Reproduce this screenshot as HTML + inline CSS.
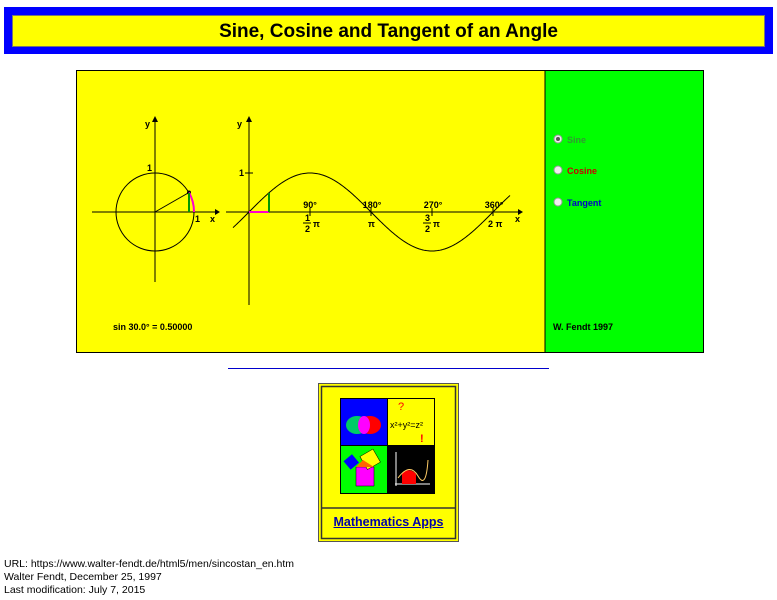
<!DOCTYPE html>
<html><head><meta charset="utf-8"><style>
body{margin:0;width:777px;height:600px;background:#fff;font-family:"Liberation Sans",Arial,sans-serif;overflow:hidden;position:relative}
.a{position:absolute}
</style></head><body>
<div class="a" style="left:4px;top:7px;width:769px;height:47px;background:#0000ff"></div>
<div class="a" style="left:12px;top:15px;width:753px;height:32px;background:#ffff00;border:1px solid #777;box-sizing:border-box;text-align:center;font-weight:bold;font-size:19px;line-height:31px">Sine, Cosine and Tangent of an Angle</div>

<svg class="a" style="left:0;top:0" width="777" height="600" font-family="Liberation Sans, Arial, sans-serif" font-weight="bold">
<rect x="76.5" y="70.5" width="627" height="282" fill="#ffff00" stroke="#000"/>
<rect x="545" y="71" width="158" height="281" fill="#00ff00"/>
<line x1="545" y1="70" x2="545" y2="352" stroke="#000"/>
<g stroke="#000" fill="none" stroke-width="1">
<line x1="92" y1="212" x2="215" y2="212"/>
<line x1="155" y1="122" x2="155" y2="282"/>
<circle cx="155" cy="212" r="39"/>
<line x1="155" y1="212" x2="189" y2="192.5"/>
<line x1="226" y1="212" x2="518" y2="212"/>
<line x1="249" y1="122" x2="249" y2="305"/>
<line x1="245" y1="173" x2="253" y2="173"/>
<line x1="310" y1="208" x2="310" y2="216"/>
<line x1="371" y1="208" x2="371" y2="216"/>
<line x1="432" y1="208" x2="432" y2="216"/>
<line x1="493" y1="208" x2="493" y2="216"/>
<path id="sp" d=""/>
</g>
<g fill="#000">
<path d="M215 209 L220 212 L215 215Z"/><path d="M152 122 L155 116 L158 122Z"/>
<path d="M518 209 L523 212 L518 215Z"/><path d="M246 122 L249 116 L252 122Z"/>
<circle cx="189" cy="192.5" r="2"/>
</g>
<path d="M194 212 A39 39 0 0 0 189 192.5" stroke="#ff00cc" stroke-width="2" fill="none"/>
<line x1="189" y1="193" x2="189" y2="212" stroke="#009900" stroke-width="2"/>
<line x1="249" y1="212" x2="269" y2="212" stroke="#ff00cc" stroke-width="2"/>
<line x1="269" y1="193" x2="269" y2="212" stroke="#009900" stroke-width="2"/>
<g font-size="9">
<text x="145" y="127">y</text><text x="237" y="127">y</text>
<text x="147" y="171">1</text><text x="239" y="176">1</text>
<text x="195" y="222">1</text><text x="210" y="222">x</text><text x="515" y="222">x</text>
<text x="310" y="208" text-anchor="middle">90°</text>
<text x="372" y="208" text-anchor="middle">180°</text>
<text x="433" y="208" text-anchor="middle">270°</text>
<text x="494" y="208" text-anchor="middle">360°</text>
<text x="305" y="221">1</text><line x1="303" y1="223" x2="311" y2="223" stroke="#000"/><text x="305" y="232">2</text><text x="313" y="227">π</text>
<text x="368" y="227">π</text>
<text x="425" y="221">3</text><line x1="423" y1="223" x2="431" y2="223" stroke="#000"/><text x="425" y="232">2</text><text x="433" y="227">π</text>
<text x="488" y="227">2 π</text>
<text x="113" y="330">sin 30.0° = 0.50000</text>
<text x="553" y="330">W. Fendt 1997</text>
<text x="567" y="143" fill="#339933">Sine</text>
<text x="567" y="174" fill="#cc0000">Cosine</text>
<text x="567" y="206" fill="#0000cc">Tangent</text>
</g>
<g stroke="#999" fill="#eee"><circle cx="558" cy="139" r="4"/><circle cx="558" cy="170" r="4"/><circle cx="558" cy="202" r="4"/></g>
<circle cx="558" cy="139" r="2" fill="#555"/>
<line x1="228" y1="368.5" x2="549" y2="368.5" stroke="#0000cc"/>
<rect x="318.5" y="383.5" width="140" height="158" fill="#ffff00" stroke="#555" stroke-width="1"/>
<rect x="321.5" y="386.5" width="134" height="152" fill="none" stroke="#333" stroke-width="1.5"/>
<line x1="322" y1="508" x2="455" y2="508" stroke="#333" stroke-width="1.5"/>
<rect x="340" y="398" width="95" height="96" fill="#000"/>
<rect x="341" y="399" width="46" height="46" fill="#0000ff"/>
<rect x="388" y="399" width="46" height="46" fill="#ffff00"/>
<rect x="341" y="446" width="46" height="47" fill="#00ff00"/>
<rect x="388" y="446" width="46" height="47" fill="#000"/>
<ellipse cx="357" cy="425" rx="11" ry="9" fill="#00cc66"/>
<ellipse cx="370" cy="425" rx="11" ry="9" fill="#ff0000"/>
<ellipse cx="364" cy="425" rx="6" ry="9" fill="#ff00ff"/>
<text x="398" y="410" font-size="11" fill="#ff0000" font-weight="normal">?</text>
<text x="390" y="428" font-size="9" fill="#000" font-weight="normal">x²+y²=z²</text>
<text x="420" y="442" font-size="11" fill="#ff0000">!</text>
<rect x="356" y="467" width="18" height="19" fill="#ff00ff" stroke="#000" stroke-width=".5"/>
<rect x="346" y="456" width="11" height="11" fill="#0000ff" transform="rotate(-40 352 462)"/>
<rect x="363" y="452" width="15" height="15" fill="#ffff00" stroke="#000" stroke-width=".5" transform="rotate(-30 370 460)"/>
<path d="M356 467 L363 460 L374 467Z" fill="#ff6600"/>
<line x1="395" y1="484" x2="430" y2="484" stroke="#fff"/><line x1="396" y1="452" x2="396" y2="486" stroke="#fff"/>
<path d="M402 484 V473 Q410 467 416 474 V484Z" fill="#ff0000"/>
<path d="M398 478 Q410 462 418 476 T428 460" stroke="#ffcc66" fill="none"/>
</svg>
<a class="a" style="left:318px;top:515px;width:141px;text-align:center;font-weight:bold;font-size:12.5px;color:#0000aa;text-decoration:underline">Mathematics Apps</a>
<div class="a" style="left:4px;top:558px;font-size:10.5px;line-height:13px;color:#000">URL: https://www.walter-fendt.de/html5/men/sincostan_en.htm<br>Walter Fendt, December 25, 1997<br>Last modification: July 7, 2015</div>
<script>
var d="";for(var x=233;x<=510;x++){var t=(x-249)/61*Math.PI/2;d+=(x==233?"M":"L")+x+" "+(212-39*Math.sin(t)).toFixed(2);}
document.getElementById("sp").setAttribute("d",d);
</script>
</body></html>
